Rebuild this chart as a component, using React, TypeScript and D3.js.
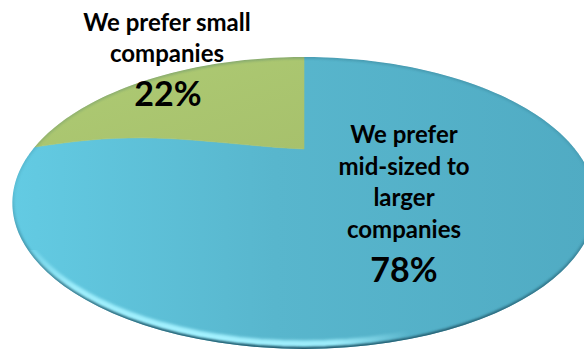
import React from "react";
import * as d3 from "d3";

const categories = ["We prefer mid-sized to larger companies", "We prefer small companies"];
const values = [78, 22];
const percentLabels = ["78%", "22%"];
const labelLines = [
  ["We prefer", "mid-sized to", "larger", "companies"],
  ["We prefer small", "companies"],
];
const sliceColors = ["url(#blueFill)", "url(#greenFill)"];

const W = 584;
const H = 351;

// perspective projection of the pie disk
const CX = 304, CY = 149, A = 271, B = 126, K = 0.37;
const WARP = 0.47; // visual angle correction of the tilted disk
const BOW = 10;

function warp(t: number) {
  return t + WARP * Math.sin(2 * t);
}
function proj(t: number, r: number): [number, number] {
  const td = warp(t);
  const x = r * Math.sin(td);
  const y = -r * Math.cos(td);
  const d = 1 - K * y;
  const sx = CX + (A * x) / d;
  let sy = CY + (B * y) / d;
  sy -= BOW * Math.sin(Math.PI * Math.pow(r, 1.35)) * Math.abs(Math.sin(td));
  return [sx, sy];
}

function slicePath(a0: number, a1: number) {
  const pts: [number, number][] = [];
  const n = 20;
  for (let i = 0; i <= n; i++) pts.push(proj(a0, i / n));
  const m = Math.max(8, Math.ceil(((a1 - a0) / (2 * Math.PI)) * 240));
  for (let i = 0; i <= m; i++) pts.push(proj(a0 + ((a1 - a0) * i) / m, 1));
  for (let i = n; i >= 0; i--) pts.push(proj(a1, i / n));
  return d3.line()(pts) + "Z";
}

function outlinePath(dy = 0) {
  const pts: [number, number][] = [];
  for (let i = 0; i <= 240; i++) {
    const p = proj((2 * Math.PI * i) / 240, 1);
    pts.push([p[0], p[1] + dy]);
  }
  return d3.line()(pts) + "Z";
}

export default function App() {
  const arcs = d3.pie<number>().sort(null).startAngle(0).endAngle(2 * Math.PI)(values);
  const font = "Lato, 'Liberation Sans', sans-serif";
  const outline = outlinePath();

  return (
    <svg width={W} height={H} style={{ display: "block", position: "absolute", left: 0, top: 0 }}>
      <defs>
        <linearGradient id="blueFill" x1="0" y1="0" x2="1" y2="0">
          <stop offset="0" stopColor="#63CBE3" />
          <stop offset="0.45" stopColor="#58B6CD" />
          <stop offset="1" stopColor="#50ABC3" />
        </linearGradient>
        <linearGradient id="greenFill" x1="0" y1="0" x2="1" y2="1">
          <stop offset="0" stopColor="#AECB74" />
          <stop offset="1" stopColor="#A7C16C" />
        </linearGradient>
        <clipPath id="pieClip">
          <path d={outline} />
        </clipPath>
        <filter id="blur1" x="-10%" y="-10%" width="120%" height="120%">
          <feGaussianBlur stdDeviation="1.2" />
        </filter>
        <filter id="blur2" x="-10%" y="-10%" width="120%" height="120%">
          <feGaussianBlur stdDeviation="1.7" />
        </filter>
        <linearGradient id="edgeMaskGrad" gradientUnits="userSpaceOnUse" x1="0" y1="60" x2="0" y2="350">
          <stop offset="0" stopColor="#fff" stopOpacity="0.25" />
          <stop offset="0.45" stopColor="#fff" stopOpacity="0.1" />
          <stop offset="0.75" stopColor="#fff" stopOpacity="0.6" />
          <stop offset="1" stopColor="#fff" stopOpacity="1" />
        </linearGradient>
        <mask id="edgeMask" maskUnits="userSpaceOnUse" x="0" y="0" width={W} height={H}>
          <rect x="0" y="0" width={W} height={H} fill="url(#edgeMaskGrad)" />
        </mask>
        <radialGradient id="hlGrad" gradientUnits="userSpaceOnUse" cx="200" cy="335" r="210">
          <stop offset="0" stopColor="#fff" stopOpacity="1" />
          <stop offset="0.65" stopColor="#fff" stopOpacity="0.9" />
          <stop offset="1" stopColor="#fff" stopOpacity="0" />
        </radialGradient>
        <mask id="hlMask" maskUnits="userSpaceOnUse" x="0" y="0" width={W} height={H}>
          <rect x="0" y="250" width={W} height={H - 250} fill="url(#hlGrad)" />
        </mask>
      </defs>

      <g clipPath="url(#pieClip)">
        {arcs.map((a, i) => (
          <path key={categories[i]} d={slicePath(a.startAngle, a.endAngle)} fill={sliceColors[i]} stroke={sliceColors[i]} strokeWidth={0.6} />
        ))}
        <path
          d={outlinePath(-5)}
          fill="none"
          stroke="#A4F2FF"
          strokeWidth={7}
          filter="url(#blur2)"
          mask="url(#hlMask)"
        />
        <path d={outline} fill="none" stroke="#21596A" strokeWidth={4} filter="url(#blur1)" mask="url(#edgeMask)" />
      </g>

      <g fontFamily={font} fontWeight={700} fill="#000" textAnchor="middle">
        {labelLines[1].map((t, i) => (
          <text key={t} x={167} y={31 + i * 31} fontSize={24}>
            {t}
          </text>
        ))}
        <text x={168} y={106} fontSize={34}>
          {percentLabels[1]}
        </text>
        {labelLines[0].map((t, i) => (
          <text key={t} x={404} y={143 + i * 31.5} fontSize={24}>
            {t}
          </text>
        ))}
        <text x={404} y={282} fontSize={34}>
          {percentLabels[0]}
        </text>
      </g>
    </svg>
  );
}
